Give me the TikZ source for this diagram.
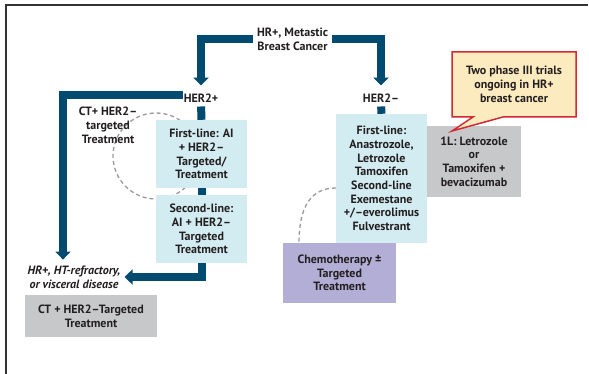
\documentclass[tikz,border=0pt]{standalone}
\usepackage{fontspec}
\setmainfont{PT Sans}
\usetikzlibrary{arrows.meta}
\definecolor{navy}{HTML}{004B6F}
\definecolor{cyanbox}{HTML}{D3ECF1}
\definecolor{graybox}{HTML}{C7C8CA}
\definecolor{purplebox}{HTML}{B3AED6}
\definecolor{callfill}{HTML}{FDEBC0}
\definecolor{callred}{HTML}{D12A35}
\definecolor{ink}{HTML}{231F20}
\definecolor{dashgray}{HTML}{9A9A9C}
\tikzset{
  txt/.style={align=center, inner sep=1pt, text=ink},
  box/.style={txt, minimum width=#1, inner sep=0pt},
  bar/.style={line width=8pt, navy},
  bigarrow/.style={line width=8pt, navy, -{Triangle[width=15pt,length=8pt]}},
  dashline/.style={dashgray, line width=1.3pt, dash pattern=on 4pt off 3pt},
}
\begin{document}
\begin{tikzpicture}[x=1pt,y=-1pt,font=\fontsize{12}{13.7}\selectfont\bfseries]
\useasboundingbox (0,0) rectangle (589,374);
\fill[white] (0,0) rectangle (589,374);
\draw[line width=1.6pt, black!80] (6,374) -- (6,5) -- (588,5);

% dashed arcs (behind boxes)
\draw[dashline] (156,156) circle[radius=43pt];
\draw[dashline] (336,188) .. controls (312,188) and (299,205) .. (299,243);

% labels
\node[txt] (title) at (292.5,39) {HR+, Metastic\\Breast Cancer};
\node[txt] (her2p) at (201,98) {HER2+};
\node[txt] (her2n) at (381,98) {HER2–};
\node[txt] (ctl) at (108,125.5) {CT+ HER2–\\targeted\\Treatment};
\node[txt, font=\fontsize{12}{13.7}\selectfont\bfseries\itshape] (hrp) at (74,277) {HR+, HT-refractory,\\or visceral disease};

% boxes
\node[box=91pt, minimum height=68pt, fill=cyanbox] (fl1) at (201.5,154) {First-line: AI\\+ HER2–\\Targeted/\\Treatment};
\node[box=91pt, minimum height=68pt, fill=cyanbox] (sl1) at (201.5,229) {Second-line:\\AI + HER2–\\Targeted\\Treatment};
\node[box=91pt, minimum height=129pt, fill=cyanbox] (fl2) at (381.5,178.5) {First-line:\\Anastrozole,\\Letrozole\\Tamoxifen\\Second-line\\Exemestane\\+/–everolimus\\Fulvestrant};
\node[box=94pt, minimum height=71pt, fill=graybox] (l1) at (474,161.5) {1L: Letrozole\\or\\Tamoxifen +\\bevacizumab};
\node[box=113pt, minimum height=60pt, fill=purplebox] (chemo) at (339.5,273) {Chemotherapy ±\\Targeted\\Treatment};
\node[box=132pt, minimum height=42pt, fill=graybox] (ctb) at (91,316) {CT + HER2–Targeted\\Treatment};

% callout
\draw[line width=1.5pt, callred, fill=callfill, line join=miter] (452,52) -- (576,52) -- (576,117) -- (503,117) -- (452,131) -- (473,117) -- (452,117) -- cycle;
\node[txt] (call) at (514,84.5) {Two phase III trials\\ongoing in HR+\\breast cancer};

% connectors
\draw[bigarrow] ([xshift=-3pt]title.west) -| ([yshift=7pt]her2p.north);
\draw[bigarrow] ([xshift=3pt]title.east) -| ([yshift=7pt]her2n.north);
\draw[bigarrow] ([yshift=3pt]her2p.west) -| ([xshift=-11pt,yshift=5pt]hrp.north);
\draw[bar, shorten <=3pt] (her2p.south) -- (fl1.north);
\draw[bar] (fl1.south) -- (sl1.north);
\draw[bigarrow] (sl1.south) |- ([xshift=3pt]hrp.east);
\draw[bar, shorten <=3pt] (her2n.south) -- (fl2.north);
\end{tikzpicture}
\end{document}
